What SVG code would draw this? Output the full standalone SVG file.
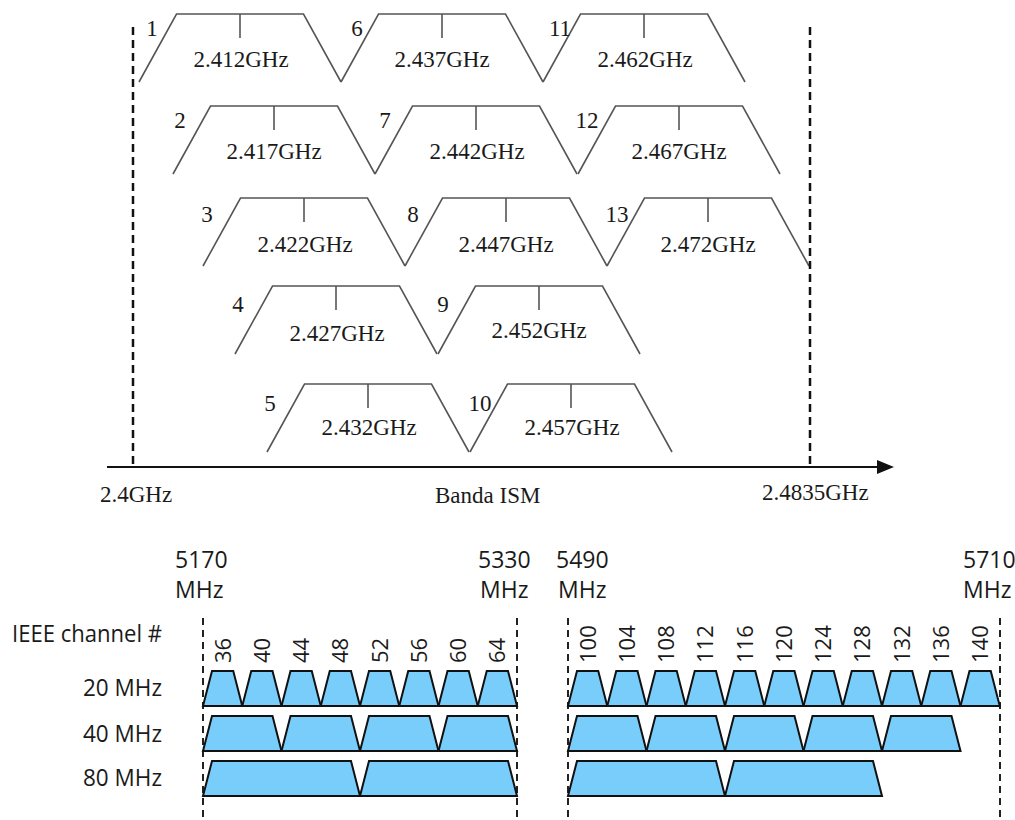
<svg xmlns="http://www.w3.org/2000/svg" xmlns:xlink="http://www.w3.org/1999/xlink" width="1015" height="820" viewBox="0 0 1015 820">
<style>
.bg{fill:#ffffff}
.tr{fill:none;stroke:#555;stroke-width:1.6;stroke-linejoin:miter}
.sv{font-family:"Liberation Serif","Times New Roman",serif;font-size:23px;fill:#1a1a1a}
.mid{text-anchor:middle}
.dashT{stroke:#111;stroke-width:2.5;stroke-dasharray:8 5;fill:none}
.dashB{stroke:#222;stroke-width:2;stroke-dasharray:7 5;fill:none}
.axis{stroke:#111;stroke-width:2.2;fill:none}
.ss{font-family:"Open Sans","Liberation Sans",sans-serif;font-size:23px;fill:#1a1a1a}
.cn{font-family:"Open Sans","Liberation Sans",sans-serif;font-size:22px;fill:#1a1a1a}
.bl{fill:#79cdfb;stroke:#111;stroke-width:2;stroke-linejoin:miter}
.end{text-anchor:end}
</style>
<defs>
<g id="wide">
<polyline class="tr" points="-101,68 -63.5,0 63.5,0 101,68"/>
<line class="tr" x1="0" y1="0" x2="0" y2="24"/>
</g>
<polygon id="t20" points="0,35 9,0 30.25,0 39.25,35"/>
<polygon id="t40" points="0,35 9,0 69.5,0 78.5,35"/>
<polygon id="t80" points="0,35 9,0 148,0 157,35"/>
</defs>
<rect class="bg" x="0" y="0" width="1015" height="820"/>

<!-- 2.4 GHz band -->
<g id="ch1"><use xlink:href="#wide" href="#wide" x="240" y="14"/><text class="sv mid" x="152" y="36">1</text><text class="sv mid" x="241" y="67">2.412GHz</text></g>
<g id="ch6"><use xlink:href="#wide" href="#wide" x="442" y="14"/><text class="sv mid" x="357" y="36">6</text><text class="sv mid" x="442" y="67">2.437GHz</text></g>
<g id="ch11"><use xlink:href="#wide" href="#wide" x="644" y="14"/><text class="sv mid" x="560" y="36">11</text><text class="sv mid" x="645" y="67">2.462GHz</text></g>

<g id="ch2"><use xlink:href="#wide" href="#wide" x="274" y="106"/><text class="sv mid" x="180" y="128">2</text><text class="sv mid" x="274" y="159">2.417GHz</text></g>
<g id="ch7"><use xlink:href="#wide" href="#wide" x="476" y="106"/><text class="sv mid" x="385" y="128">7</text><text class="sv mid" x="477" y="159">2.442GHz</text></g>
<g id="ch12"><use xlink:href="#wide" href="#wide" x="679" y="106"/><text class="sv mid" x="587" y="128">12</text><text class="sv mid" x="679" y="159">2.467GHz</text></g>

<g id="ch3"><use xlink:href="#wide" href="#wide" x="304" y="198"/><text class="sv mid" x="207" y="222">3</text><text class="sv mid" x="305" y="252">2.422GHz</text></g>
<g id="ch8"><use xlink:href="#wide" href="#wide" x="506" y="198"/><text class="sv mid" x="413" y="222">8</text><text class="sv mid" x="506" y="252">2.447GHz</text></g>
<g id="ch13"><use xlink:href="#wide" href="#wide" x="708" y="198"/><text class="sv mid" x="617" y="222">13</text><text class="sv mid" x="708" y="252">2.472GHz</text></g>

<g id="ch4"><use xlink:href="#wide" href="#wide" x="336" y="286"/><text class="sv mid" x="238" y="312">4</text><text class="sv mid" x="337" y="341">2.427GHz</text></g>
<g id="ch9"><use xlink:href="#wide" href="#wide" x="539" y="286"/><text class="sv mid" x="443" y="312">9</text><text class="sv mid" x="539" y="338">2.452GHz</text></g>

<g id="ch5"><use xlink:href="#wide" href="#wide" x="368" y="384"/><text class="sv mid" x="270" y="411">5</text><text class="sv mid" x="369" y="435">2.432GHz</text></g>
<g id="ch10"><use xlink:href="#wide" href="#wide" x="571" y="384"/><text class="sv mid" x="480" y="411">10</text><text class="sv mid" x="572" y="435">2.457GHz</text></g>

<g id="connectors">
<line class="dashT" x1="133" y1="27" x2="133" y2="467"/>
<line class="dashT" x1="810" y1="27" x2="810" y2="467"/>
<line class="axis" x1="107" y1="467" x2="880" y2="467"/>
<polygon points="877,460 894,467 877,474" fill="#111"/>
<line class="dashB" x1="203" y1="618" x2="203" y2="820"/>
<line class="dashB" x1="517" y1="618" x2="517" y2="820"/>
<line class="dashB" x1="568" y1="618" x2="568" y2="820"/>
<line class="dashB" x1="1000" y1="618" x2="1000" y2="820"/>
</g>

<g id="axis-labels">
<text class="sv" x="100" y="502">2.4GHz</text>
<text class="sv" x="435" y="503">Banda ISM</text>
<text class="sv" x="762" y="500">2.4835GHz</text>
</g>

<!-- 5 GHz band -->
<g id="freq-labels">
<text class="ss" x="175" y="568">5170</text>
<text class="ss" x="175" y="598">MHz</text>
<text class="ss" x="478" y="568">5330</text>
<text class="ss" x="480" y="598">MHz</text>
<text class="ss" x="556" y="568">5490</text>
<text class="ss" x="558" y="598">MHz</text>
<text class="ss" x="963" y="568">5710</text>
<text class="ss" x="963" y="598">MHz</text>
</g>

<g id="row-labels">
<text class="ss end" x="162" y="642" textLength="150" lengthAdjust="spacingAndGlyphs">IEEE channel #</text>
<text class="ss end" x="162" y="696" textLength="79" lengthAdjust="spacingAndGlyphs">20 MHz</text>
<text class="ss end" x="162" y="742" textLength="79" lengthAdjust="spacingAndGlyphs">40 MHz</text>
<text class="ss end" x="162" y="786" textLength="79" lengthAdjust="spacingAndGlyphs">80 MHz</text>
</g>

<g id="channel-numbers">
<text class="cn" transform="translate(230.6,663) rotate(-90)">36</text>
<text class="cn" transform="translate(269.9,663) rotate(-90)">40</text>
<text class="cn" transform="translate(309.1,663) rotate(-90)">44</text>
<text class="cn" transform="translate(348.4,663) rotate(-90)">48</text>
<text class="cn" transform="translate(387.6,663) rotate(-90)">52</text>
<text class="cn" transform="translate(426.9,663) rotate(-90)">56</text>
<text class="cn" transform="translate(466.1,663) rotate(-90)">60</text>
<text class="cn" transform="translate(505.4,663) rotate(-90)">64</text>
<text class="cn" transform="translate(595.6,663) rotate(-90)">100</text>
<text class="cn" transform="translate(634.9,663) rotate(-90)">104</text>
<text class="cn" transform="translate(674.1,663) rotate(-90)">108</text>
<text class="cn" transform="translate(713.4,663) rotate(-90)">112</text>
<text class="cn" transform="translate(752.6,663) rotate(-90)">116</text>
<text class="cn" transform="translate(791.9,663) rotate(-90)">120</text>
<text class="cn" transform="translate(831.1,663) rotate(-90)">124</text>
<text class="cn" transform="translate(870.4,663) rotate(-90)">128</text>
<text class="cn" transform="translate(909.6,663) rotate(-90)">132</text>
<text class="cn" transform="translate(948.9,663) rotate(-90)">136</text>
<text class="cn" transform="translate(988.1,663) rotate(-90)">140</text>
</g>

<g id="row-20MHz" class="bl">
<use href="#t20" xlink:href="#t20" x="203" y="671"/>
<use href="#t20" xlink:href="#t20" x="242.25" y="671"/>
<use href="#t20" xlink:href="#t20" x="281.5" y="671"/>
<use href="#t20" xlink:href="#t20" x="320.75" y="671"/>
<use href="#t20" xlink:href="#t20" x="360" y="671"/>
<use href="#t20" xlink:href="#t20" x="399.25" y="671"/>
<use href="#t20" xlink:href="#t20" x="438.5" y="671"/>
<use href="#t20" xlink:href="#t20" x="477.75" y="671"/>
<use href="#t20" xlink:href="#t20" x="568" y="671"/>
<use href="#t20" xlink:href="#t20" x="607.25" y="671"/>
<use href="#t20" xlink:href="#t20" x="646.5" y="671"/>
<use href="#t20" xlink:href="#t20" x="685.75" y="671"/>
<use href="#t20" xlink:href="#t20" x="725" y="671"/>
<use href="#t20" xlink:href="#t20" x="764.25" y="671"/>
<use href="#t20" xlink:href="#t20" x="803.5" y="671"/>
<use href="#t20" xlink:href="#t20" x="842.75" y="671"/>
<use href="#t20" xlink:href="#t20" x="882" y="671"/>
<use href="#t20" xlink:href="#t20" x="921.25" y="671"/>
<use href="#t20" xlink:href="#t20" x="960.5" y="671"/>
</g>
<g id="row-40MHz" class="bl">
<use href="#t40" xlink:href="#t40" x="203" y="716"/>
<use href="#t40" xlink:href="#t40" x="281.5" y="716"/>
<use href="#t40" xlink:href="#t40" x="360" y="716"/>
<use href="#t40" xlink:href="#t40" x="438.5" y="716"/>
<use href="#t40" xlink:href="#t40" x="568" y="716"/>
<use href="#t40" xlink:href="#t40" x="646.5" y="716"/>
<use href="#t40" xlink:href="#t40" x="725" y="716"/>
<use href="#t40" xlink:href="#t40" x="803.5" y="716"/>
<use href="#t40" xlink:href="#t40" x="882" y="716"/>
</g>
<g id="row-80MHz" class="bl">
<use href="#t80" xlink:href="#t80" x="203" y="761"/>
<use href="#t80" xlink:href="#t80" x="360" y="761"/>
<use href="#t80" xlink:href="#t80" x="568" y="761"/>
<use href="#t80" xlink:href="#t80" x="725" y="761"/>
</g>
</svg>
